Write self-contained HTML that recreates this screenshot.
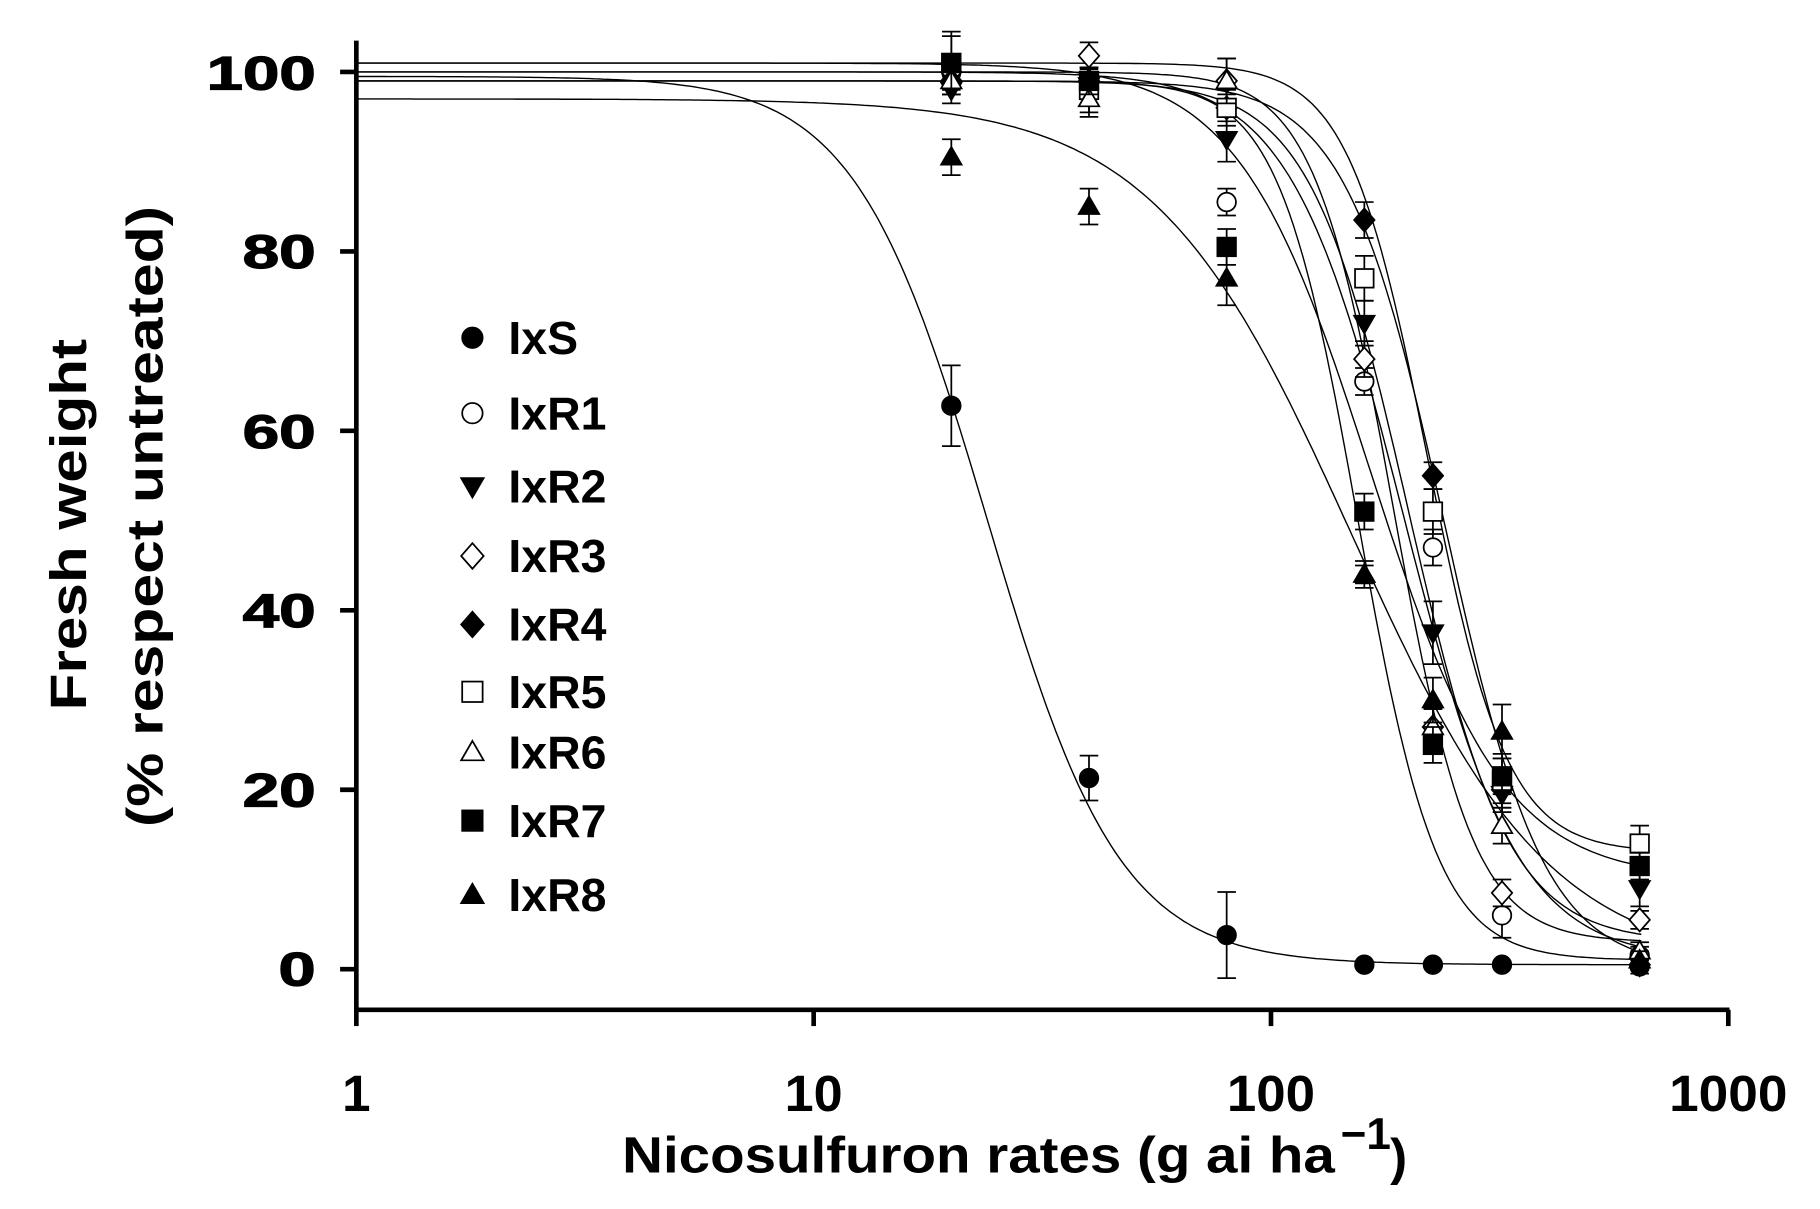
<!DOCTYPE html>
<html><head><meta charset="utf-8"><style>html,body{margin:0;padding:0;background:#fff}svg{display:block}</style></head>
<body>
<svg id="s" width="1820" height="1209" viewBox="0 0 1568 1041.6" preserveAspectRatio="none" xmlns="http://www.w3.org/2000/svg" font-family="Liberation Sans, sans-serif" font-weight="bold">
<g stroke="#000" stroke-width="4" fill="none">
<line x1="307" y1="35" x2="307" y2="872"/>
<line x1="305" y1="870" x2="1490" y2="870"/>
<line x1="293" y1="62" x2="307" y2="62"/><line x1="293" y1="216.6" x2="307" y2="216.6"/><line x1="293" y1="371.2" x2="307" y2="371.2"/><line x1="293" y1="525.8" x2="307" y2="525.8"/><line x1="293" y1="680.4" x2="307" y2="680.4"/><line x1="293" y1="835" x2="307" y2="835"/>
<line x1="307" y1="870" x2="307" y2="884"/><line x1="701" y1="870" x2="701" y2="884"/><line x1="1095" y1="870" x2="1095" y2="884"/><line x1="1489" y1="870" x2="1489" y2="884"/>
</g>
<g font-size="41" text-anchor="end" fill="#000" stroke="#000" stroke-width="1">
<text x="272" y="77" textLength="94" lengthAdjust="spacingAndGlyphs">100</text>
<text x="272" y="231" textLength="63" lengthAdjust="spacingAndGlyphs">80</text>
<text x="272" y="386" textLength="63" lengthAdjust="spacingAndGlyphs">60</text>
<text x="272" y="540" textLength="63" lengthAdjust="spacingAndGlyphs">40</text>
<text x="272" y="695" textLength="63" lengthAdjust="spacingAndGlyphs">20</text>
<text x="272" y="849" textLength="32" lengthAdjust="spacingAndGlyphs">0</text>
</g>
<g font-size="44" text-anchor="middle" fill="#000">
<text x="307" y="957">1</text>
<text x="701" y="957" textLength="50" lengthAdjust="spacingAndGlyphs">10</text>
<text x="1095" y="957" textLength="76" lengthAdjust="spacingAndGlyphs">100</text>
<text x="1489" y="957" textLength="102" lengthAdjust="spacingAndGlyphs">1000</text>
<text x="843" y="1010" textLength="614" lengthAdjust="spacingAndGlyphs">Nicosulfuron rates (g ai ha</text>
<text x="1155" y="990" font-size="38" text-anchor="start">−1</text>
<text x="1205" y="1012">)</text>
<text transform="translate(74,452) rotate(-90)" textLength="320" lengthAdjust="spacingAndGlyphs">Fresh weight</text>
<text transform="translate(140,445) rotate(-90)" textLength="535" lengthAdjust="spacingAndGlyphs">(% respect untreated)</text>
</g>
<g id="legend" font-size="40" fill="#000"></g>
<g id="plot"></g>
</svg>
<script>
var NS="http://www.w3.org/2000/svg";
function X(v){return 307+394*Math.log10(v);}
function Y(p){return 835-7.73*p;}
function el(t,a,p){var e=document.createElementNS(NS,t);for(var k in a)e.setAttribute(k,a[k]);p.appendChild(e);return e;}
var plot=document.getElementById('plot'),leg=document.getElementById('legend');
function marker(type,x,y,p,s){s=s||1;var r=8*s,a;
 var fill=/o/.test(type)?'#fff':'#000';
 var base={fill:fill,stroke:'#000','stroke-width':1.5};
 var k=type.replace('o','');
 if(k=='c'){a=Object.assign({cx:x,cy:y,r:r},base);el('circle',a,p);}
 else if(k=='s'){a=Object.assign({x:x-r,y:y-r,width:2*r,height:2*r},base);el('rect',a,p);}
 else if(k=='d'){a=Object.assign({points:[x,y-r*1.25,x+r*1.1,y,x,y+r*1.25,x-r*1.1,y].join(' ')},base);el('polygon',a,p);}
 else if(k=='t'){a=Object.assign({points:[x,y-r*1.1,x+r*1.1,y+r*0.8,x-r*1.1,y+r*0.8].join(' ')},base);el('polygon',a,p);}
 else if(k=='v'){a=Object.assign({points:[x,y+r*1.1,x+r*1.1,y-r*0.8,x-r*1.1,y-r*0.8].join(' ')},base);el('polygon',a,p);}
}
var xs=[20,40,80,160,226,320,640];
var S=[
 {n:'IxS',m:'c',d:99.5,c:0.5,e:24,b:3,p:[62.8,21.3,3.8,0.5,0.5,0.5,0.3],er:[4.5,2.5,4.8,0,0,0,0]},
 {n:'IxR1',m:'oc',d:100,c:1,e:195,b:3.5,p:[100,99,85.5,65.5,47,6,1.5],er:[1.5,1.5,1.5,1.5,2,2.5,1]},
 {n:'IxR2',m:'v',d:99,c:3,e:200,b:4,p:[98,98.5,92.5,72,37.5,19.5,9],er:[1.5,1.5,2.5,2.5,3.5,2,2]},
 {n:'IxR3',m:'od',d:100,c:3,e:185,b:5,p:[100,101.8,99,68,27,8.5,5.5],er:[1,1.5,2.5,2,2,1.5,1]},
 {n:'IxR4',m:'d',d:99,c:0,e:240,b:4,p:[99,99,96,83.5,55,20,0.5],er:[1.5,1.5,1.5,2,1.5,1.5,1]},
 {n:'IxR5',m:'os',d:101,c:13,e:220,b:5,p:[101,98,96,77,51,21,14],er:[3.5,2.5,2,2.5,2.5,3,2]},
 {n:'IxR6',m:'ot',d:99,c:1,e:155,b:5,p:[99,97,99,44,27,16,2],er:[1.5,2,2.5,1.5,2,2,1]},
 {n:'IxR7',m:'s',d:101,c:10,e:165,b:3,p:[101,99,80.5,51,25,21.5,11.5],er:[3,1.5,2,2,2,2,1.5]},
 {n:'IxR8',m:'t',d:97,c:0,e:150,b:2,p:[90.5,85,77,44,30,26.5,1],er:[2,2,3,1,2.5,3,1]}
];
S.forEach(function(s){
 var pts=[];for(var lx=0;lx<=2.81;lx+=0.01){var v=Math.pow(10,lx);var yv=s.c+(s.d-s.c)/(1+Math.pow(v/s.e,s.b));pts.push(X(v).toFixed(1)+','+Y(yv).toFixed(1));}
 el('polyline',{points:pts.join(' '),fill:'none',stroke:'#000','stroke-width':1.2},plot);
});
S.forEach(function(s){
 xs.forEach(function(x,i){var cx=X(x),cy=Y(s.p[i]),e=s.er[i]*7.73;
  if(e>0){el('line',{x1:cx,y1:cy-e,x2:cx,y2:cy+e,stroke:'#000','stroke-width':1.5},plot);
   el('line',{x1:cx-8,y1:cy-e,x2:cx+8,y2:cy-e,stroke:'#000','stroke-width':1.5},plot);
   el('line',{x1:cx-8,y1:cy+e,x2:cx+8,y2:cy+e,stroke:'#000','stroke-width':1.5},plot);}
  marker(s.m,cx,cy,plot);
 });
});
var ly=[287,352,415,475,534,592,644,703,767];
S.forEach(function(s,i){marker(s.m,407,ly[i]+4,leg,1.1);var t=el('text',{x:438,y:ly[i]+18},leg);t.textContent=s.n;});
</script>
</body></html>
